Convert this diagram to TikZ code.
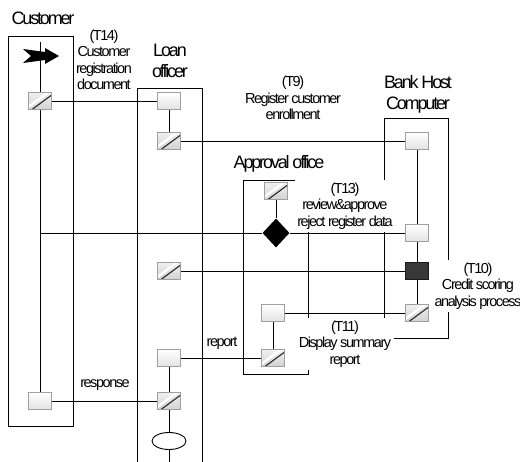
\documentclass[tikz,border=0pt]{standalone}
\usepackage{fontspec}
\setmainfont{Liberation Sans}[LetterSpace=-10]
\newfontfamily\titlefam{Liberation Sans}[LetterSpace=-12]
\usetikzlibrary{shapes.geometric}
\newcommand{\titlefont}{\titlefam\fontsize{18}{21}\selectfont}
\newcommand{\labelfont}{\fontsize{14.5}{16.5}\selectfont}
\tikzset{
  lane/.style={draw=black, line width=0.9pt},
  link/.style={draw=black, line width=0.9pt},
  lightbox/.style={draw=gray!75, top color=white, bottom color=gray!22, line width=0.7pt,
                   minimum width=23pt, minimum height=17pt, inner sep=0pt},
  hatchbox/.style={lightbox, top color=gray!12, bottom color=gray!35,
    path picture={
      \draw[white, line width=2.4pt]
        ([xshift=-1.5pt,yshift=1.5pt]path picture bounding box.south west) --
        ([xshift=-1.5pt,yshift=1.5pt]path picture bounding box.north east);
      \draw[black!85, line width=1.1pt]
        ([xshift=1.5pt,yshift=-1.5pt]path picture bounding box.south west) --
        ([xshift=1.5pt,yshift=-1.5pt]path picture bounding box.north east);}},
  darkbox/.style={lightbox, draw=black!90, fill=black!78, top color=black!78, bottom color=black!78},
  decision/.style={diamond, fill=black, minimum width=27pt, minimum height=29pt, inner sep=0pt},
  endstate/.style={ellipse, draw=black, fill=white, line width=0.9pt,
                   minimum width=34pt, minimum height=17pt, inner sep=0pt},
  title/.style={font=\titlefont, align=center, inner sep=1pt},
  tlabel/.style={font=\labelfont, align=center, fill=white, inner sep=2.5pt}
}
\begin{document}
\begin{tikzpicture}[x=1pt,y=-1pt]
  \useasboundingbox[fill=white] (0,0) rectangle (520,462);

  % swimlanes
  \draw[lane] (8,36) rectangle (73,426);
  \draw[lane] (137,462) |- (202,88) -- (202,462);
  \draw[lane] (243,180) rectangle (308,374);
  \draw[lane] (384,118) rectangle (448,338);

  % customer
  \coordinate (cuTop) at (40,42);
  \coordinate (cuRev) at (40,233);
  \node[hatchbox] (cuDoc) at (40,101) {};
  \node[lightbox] (cuResp) at (40,401) {};

  % loan officer
  \node[lightbox] (loIn) at (169,101) {};
  \node[hatchbox] (loReg) at (169,141) {};
  \node[hatchbox] (loScore) at (169,271) {};
  \node[lightbox] (loRep) at (169,358) {};
  \node[hatchbox] (loResp) at (169,401) {};
  \node[endstate] (loEnd) at (169,441) {};
  \coordinate (loBot) at (169,462);

  % approval office
  \node[hatchbox] (apIn) at (276,191) {};
  \node[decision] (apDec) at (276,233) {};
  \node[lightbox] (apRep) at (273,313) {};
  \node[hatchbox] (apOut) at (273,358) {};

  % bank host computer
  \node[lightbox] (bkIn) at (417,141) {};
  \node[lightbox] (bkRev) at (417,233) {};
  \node[darkbox] (bkScore) at (417,271) {};
  \node[hatchbox] (bkOut) at (417,313) {};

  % lifelines and messages
  \draw[link] (cuTop) -- (cuDoc);
  \draw[link] (cuDoc) -- (cuResp);
  \draw[link] (cuDoc) -- (loIn);
  \draw[link] (loIn) -- (loReg);
  \draw[link] (loReg) -- (bkIn);
  \draw[link] (bkIn) -- (bkRev);
  \draw[link] (bkRev) -- (bkScore);
  \draw[link] (bkScore) -- (bkOut);
  \draw[link] (apIn) -- (apDec);
  \draw[link] (cuRev) -- (apDec);
  \draw[link] (apDec) -- (bkRev);
  \draw[link] (loScore) -- (bkScore);
  \draw[link] (apRep) -- (bkOut);
  \draw[link] (apRep) -- (apOut);
  \draw[link] (loRep) -- (apOut);
  \draw[link] (loRep) -- (loResp);
  \draw[link] (cuResp) -- (loResp);
  \draw[link] (loResp) -- (loEnd);
  \draw[link] (loEnd) -- (loBot);

  % start marker
  \fill[black] (23,49) -- (45,52) -- (45,48) -- (59,56) -- (45,64) -- (45,60)
    -- (23,63) -- (31,56) -- cycle;

  % lane titles
  \node[title] (tCu) at (43,18) {Customer};
  \node[title] (tLo) at (170,61) {Loan\\officer};
  \node[title] (tAp) at (279,164) {Approval office};
  \node[title] (tBk) at (418,94) {Bank Host\\Computer};

  % task labels
  \node[tlabel] (lbT14) at (104,60) {(T14)\\Customer\\registration\\document};
  \node[tlabel] (lbT9) at (293,98) {(T9)\\Register customer\\enrollment};
  \node[tlabel] (lbT13) at (345,206) {(T13)\\review\&approve\\reject register data};
  \node[tlabel] (lbT10) at (478,286) {(T10)\\Credit scoring\\analysis process};
  \node[tlabel] (lbT11) at (345,344) {(T11)\\Display summary\\report};
  \node[font=\labelfont, inner sep=1pt] (lbRep) at (222,343) {report};
  \node[font=\labelfont, inner sep=1pt] (lbResp) at (105,385) {response};
\end{tikzpicture}
\end{document}
